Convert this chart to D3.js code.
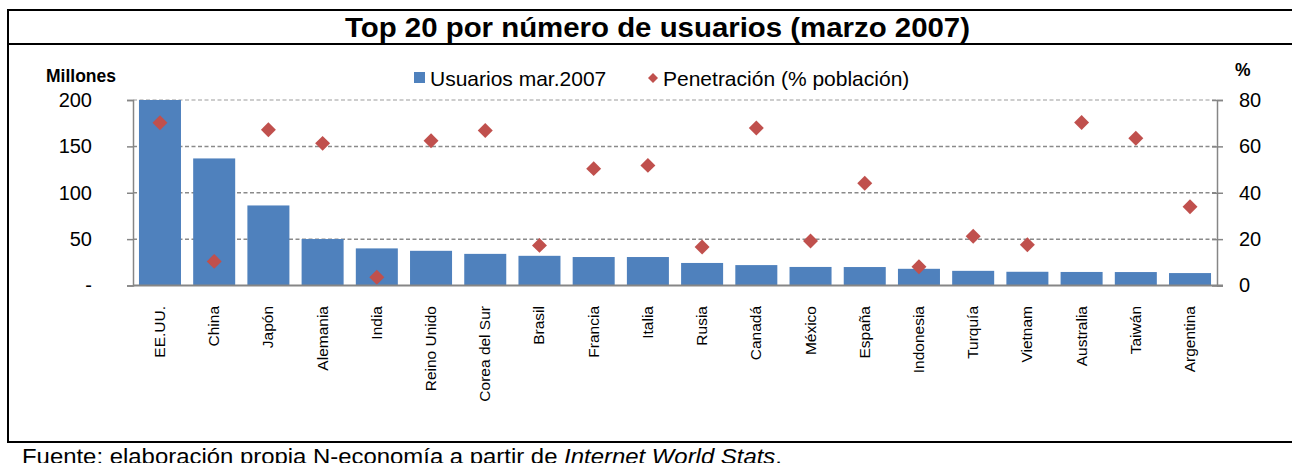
<!DOCTYPE html>
<html>
<head>
<meta charset="utf-8">
<script src="https://cdn.jsdelivr.net/npm/d3@7"></script>
<style>
  body { margin: 0; background: #fff; }
  svg { display: block; font-family: "Liberation Sans", Arial, sans-serif; }
</style>
</head>
<body>
<div id="chart"></div>
<script>
// Data
const paises = ['EE.UU.', 'China', 'Japón', 'Alemania', 'India', 'Reino Unido', 'Corea del Sur',
  'Brasil', 'Francia', 'Italia', 'Rusia', 'Canadá', 'México', 'España', 'Indonesia',
  'Turquía', 'Vietnam', 'Australia', 'Taiwán', 'Argentina'];
const usuarios = [210, 137, 86.3, 50.1, 40, 37.4, 34.1, 32, 30.7, 30.7, 24.3, 22, 20, 19.9, 18,
  15.8, 14.8, 14.6, 14.5, 13.4];
const penetracion = [70.2, 10.4, 67.2, 61.3, 3.6, 62.4, 66.8, 17.3, 50.4, 51.8, 16.6, 67.9, 19.2,
  44.1, 8.1, 21.2, 17.6, 70.3, 63.5, 34];
const ticksIzq = [0, 50, 100, 150, 200];
const ticksDer = [0, 20, 40, 60, 80];

const W = 1292, H = 463;
const svg = d3.select('#chart').append('svg').attr('width', W).attr('height', H);

// plot area
const x0 = 133, x1 = 1217, yTop = 100, yBot = 285.5;

// outer frame
svg.append('line').attr('x1', 8).attr('x2', W + 5).attr('y1', 10).attr('y2', 10)
  .attr('stroke', '#000').attr('stroke-width', 2);
svg.append('line').attr('x1', 8).attr('x2', W + 5).attr('y1', 44).attr('y2', 44)
  .attr('stroke', '#000').attr('stroke-width', 2);
svg.append('line').attr('x1', 8).attr('x2', W + 5).attr('y1', 442).attr('y2', 442)
  .attr('stroke', '#000').attr('stroke-width', 2);
svg.append('line').attr('x1', 8).attr('x2', 8).attr('y1', 9).attr('y2', 443)
  .attr('stroke', '#000').attr('stroke-width', 2);

svg.append('text').attr('x', 345).attr('y', 37)
  .attr('font-size', 27).attr('font-weight', 'bold')
  .attr('textLength', 625).attr('lengthAdjust', 'spacingAndGlyphs')
  .text('Top 20 por número de usuarios (marzo 2007)');

// scales
const x = d3.scaleBand().domain(paises).range([x0, x1]).paddingInner(0.225).paddingOuter(0.11);
const yL = d3.scaleLinear().domain([0, 200]).range([yBot, yTop]).clamp(true);
const yR = d3.scaleLinear().domain([0, 80]).range([yBot, yTop]);

// gridlines
svg.append('g').selectAll('line').data(ticksIzq.slice(1)).join('line')
  .attr('x1', x0).attr('x2', x1)
  .attr('y1', d => yL(d)).attr('y2', d => yL(d))
  .attr('stroke', d => d === 200 ? '#bdbdbd' : '#8a8a8a')
  .attr('stroke-width', 1.5).attr('stroke-dasharray', '4,2.5');

// bars
svg.append('g').selectAll('rect').data(paises).join('rect')
  .attr('x', d => x(d))
  .attr('width', x.bandwidth())
  .attr('y', (d, i) => yL(usuarios[i]))
  .attr('height', (d, i) => yBot - yL(usuarios[i]))
  .attr('fill', '#4f81bd');

// penetration points
const diamond = d3.symbol().type(d3.symbolSquare).size(112);
svg.append('g').selectAll('path').data(paises).join('path')
  .attr('d', diamond)
  .attr('transform', (d, i) => `translate(${x(d) + x.bandwidth() / 2},${yR(penetracion[i])}) rotate(45)`)
  .attr('fill', '#c0504d');

// left axis
const axL = svg.append('g').attr('transform', `translate(${x0},0)`)
  .call(d3.axisLeft(yL).tickValues(ticksIzq).tickSize(6).tickPadding(35)
    .tickFormat(d => d === 0 ? '-' : d));
axL.select('.domain').attr('stroke', '#868686').attr('stroke-width', 1.5);
axL.selectAll('.tick line').attr('stroke', '#868686').attr('stroke-width', 1.5);
axL.selectAll('.tick text').attr('font-size', 20).attr('fill', '#000')
  .attr('font-family', '"Liberation Sans", Arial, sans-serif');

// right axis
const axR = svg.append('g').attr('transform', `translate(${x1},0)`)
  .call(d3.axisRight(yR).tickValues(ticksDer).tickSize(6).tickPadding(16));
axR.select('.domain').attr('stroke', '#868686').attr('stroke-width', 1.5);
axR.selectAll('.tick line').attr('stroke', '#868686').attr('stroke-width', 1.5).attr('x1', -5);
axR.selectAll('.tick text').attr('font-size', 20).attr('fill', '#000')
  .attr('font-family', '"Liberation Sans", Arial, sans-serif');

// bottom axis line
svg.append('line').attr('x1', x0).attr('x2', x1 + 6).attr('y1', yBot).attr('y2', yBot)
  .attr('stroke', '#868686').attr('stroke-width', 2);

// category labels
svg.append('g').selectAll('text').data(paises).join('text')
  .attr('transform', d => `translate(${x(d) + x.bandwidth() / 2 + 5},306) rotate(-90)`)
  .attr('text-anchor', 'end')
  .attr('font-size', 15.5)
  .text(d => d);

// axis titles
svg.append('text').attr('x', 46).attr('y', 82).attr('font-size', 17.5).attr('font-weight', 'bold')
  .text('Millones');
svg.append('text').attr('x', 1235).attr('y', 76).attr('font-size', 17.5).attr('font-weight', 'bold')
  .text('%');

// legend
svg.append('rect').attr('x', 414).attr('y', 72).attr('width', 11).attr('height', 11).attr('fill', '#4f81bd');
svg.append('text').attr('x', 430).attr('y', 86).attr('font-size', 21).text('Usuarios mar.2007');
svg.append('path').attr('d', d3.symbol().type(d3.symbolSquare).size(50))
  .attr('transform', 'translate(653,78) rotate(45)').attr('fill', '#c0504d');
svg.append('text').attr('x', 663).attr('y', 86).attr('font-size', 21).text('Penetración (% población)');

// source (cut at the bottom edge, as in the original)
const src = svg.append('text').attr('x', 22).attr('y', 464).attr('font-size', 22.5)
  .attr('textLength', 760).attr('lengthAdjust', 'spacingAndGlyphs');
src.append('tspan').text('Fuente: elaboración propia N-economía a partir de ');
src.append('tspan').attr('font-style', 'italic').text('Internet World Stats');
src.append('tspan').text('.');
</script>
</body>
</html>
